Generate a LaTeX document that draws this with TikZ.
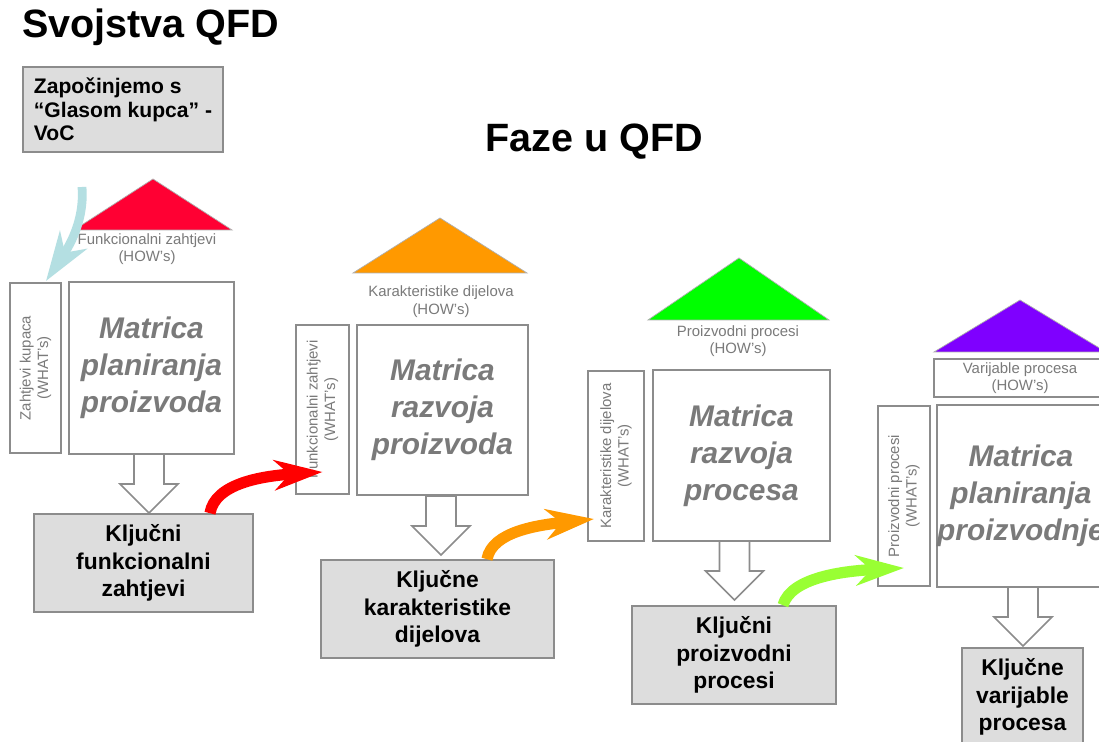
\documentclass[tikz,border=0pt]{standalone}
\usepackage{fontspec}
\setmainfont{Liberation Sans}
\usetikzlibrary{arrows.meta}

\definecolor{garis}{HTML}{8C8C8C}
\definecolor{abukotak}{HTML}{DDDDDD}
\definecolor{tekskabur}{HTML}{7A7A7A}
\definecolor{merahatap}{HTML}{FF0033}
\definecolor{merahpanah}{HTML}{FF0000}
\definecolor{oranye}{HTML}{FF9900}
\definecolor{hijauatap}{HTML}{00FF00}
\definecolor{hijaupanah}{HTML}{99FF33}
\definecolor{ungu}{HTML}{7F00FF}
\definecolor{birumuda}{HTML}{B4DFE2}

\tikzset{
  kotak/.style={draw=garis, line width=0.9pt, fill=white, inner sep=0pt},
  matriks/.style={kotak, align=center, text=tekskabur,
    font=\fontsize{17}{21}\selectfont\bfseries\itshape},
  apa/.style={kotak, rotate=90, align=center, text=tekskabur,
    font=\fontsize{8.5}{10}\selectfont},
  bagaimana/.style={align=center, text=tekskabur, inner sep=0pt,
    font=\fontsize{8.5}{10}\selectfont},
  kunci/.style={kotak, fill=abukotak, align=center,
    font=\fontsize{13}{15.5}\selectfont\bfseries},
  judul/.style={anchor=base west, inner sep=0pt,
    font=\fontsize{22.5}{27}\selectfont\bfseries},
  atap/.style={draw=garis!70, line width=0.4pt},
  turun/.style={draw=garis, line width=0.9pt, fill=white, line join=miter},
  lengkung/.style={line width=6.4pt, -{Stealth[length=9.6mm,width=6mm,inset=3mm]}},
}

\begin{document}
\begin{tikzpicture}[x=0.02cm, y=-0.02cm]
    \useasboundingbox (0,0) rectangle (1099,742);
    \clip (0,0) rectangle (1099,742);
    \fill[white] (0,0) rectangle (1099,742);

    % judul
    \node[judul] (svojstva) at (22,38) {Svojstva QFD};
    \node[judul] (faze) at (485,152) {Faze u QFD};

    % suara pelanggan
    \node[kotak, fill=abukotak, minimum width=4cm, minimum height=1.7cm,
      align=left, font=\fontsize{12}{13.5}\selectfont\bfseries] (voc) at (123,109.5)
      {Započinjemo s\\“Glasom kupca” -\\VoC};

    % atap
    \filldraw[atap, fill=merahatap] (74,230) -- (153,179) -- (232,230) -- cycle;
    \filldraw[atap, fill=oranye] (353,273) -- (440,218) -- (527,273) -- cycle;
    \filldraw[atap, fill=hijauatap] (648,320) -- (739,258) -- (829,320) -- cycle;
    \filldraw[atap, fill=ungu] (934,352) -- (1020,300) -- (1106,352) -- cycle;

    % label HOW
    \node[bagaimana] (how1) at (147,249) {Funkcionalni zahtjevi\\(HOW’s)};
    \node[bagaimana] (how2) at (441,301.5) {Karakteristike dijelova\\(HOW’s)};
    \node[bagaimana] (how3) at (738,341) {Proizvodni procesi\\(HOW’s)};
    \node[kotak, bagaimana, minimum width=3.44cm, minimum height=0.76cm] (how4) at (1020,378)
      {Varijable procesa\\(HOW’s)};

    % matriks
    \node[matriks, minimum width=3.3cm, minimum height=3.44cm] (mat1) at (151.5,368) {Matrica\\planiranja\\proizvoda};
    \node[matriks, minimum width=3.42cm, minimum height=3.4cm] (mat2) at (442.5,410) {Matrica\\razvoja\\proizvoda};
    \node[matriks, minimum width=3.54cm, minimum height=3.42cm] (mat3) at (741.5,455.5) {Matrica\\razvoja\\procesa};
    \node[matriks, minimum width=3.32cm, minimum height=3.64cm] (mat4) at (1021,496) {Matrica\\planiranja\\proizvodnje};

    % label WHAT (diputar)
    \node[apa, minimum width=3.4cm, minimum height=1.02cm] (what1) at (35.5,368) {Zahtjevi kupaca\\(WHAT’s)};
    \node[apa, minimum width=3.38cm, minimum height=1.06cm] (what2) at (322.5,409.5) {Funkcionalni zahtjevi\\(WHAT’s)};
    \node[apa, minimum width=3.4cm, minimum height=1.12cm] (what3) at (616,456) {Karakteristike dijelova\\(WHAT’s)};
    \node[apa, minimum width=3.6cm, minimum height=1.04cm] (what4) at (904,496) {Proizvodni procesi\\(WHAT’s)};

    % kotak kunci
    \node[kunci, minimum width=4.38cm, minimum height=1.96cm] (key1) at (143.5,563) {Ključni\\funkcionalni\\zahtjevi};
    \node[kunci, minimum width=4.66cm, minimum height=1.96cm] (key2) at (437.5,609) {Ključne\\karakteristike\\dijelova};
    \node[kunci, minimum width=4.08cm, minimum height=1.96cm] (key3) at (734,655) {Ključni\\proizvodni\\procesi};
    \node[kunci, minimum width=2.42cm, minimum height=1.96cm] (key4) at (1022.5,697) {Ključne\\varijable\\procesa};

    % panah ke bawah
    \foreach \x/\y in {149/454, 441/496, 734.5/541, 1023/587}
      \draw[turun] (\x-15,\y) -- (\x+15,\y) -- (\x+15,\y+30) -- (\x+29,\y+30)
        -- (\x,\y+59) -- (\x-29,\y+30) -- (\x-15,\y+30) -- cycle;

    % panah lengkung
    \coordinate (vocujung) at (82,187);
    \draw[lengkung, birumuda, line width=5pt, -{Stealth[length=9.8mm,width=6.4mm,inset=3mm]}]
      (vocujung) .. controls +(2,25) and +(30,-45) .. ([xshift=2.1mm,yshift=1.74cm]what1.center);
    \draw[lengkung, merahpanah] ([xshift=1.33cm]key1.north)
      .. controls +(5,-30) and +(-60,4) .. ([yshift=-1.25cm]what2.center);
    \draw[lengkung, oranye] ([xshift=0.99cm]key2.north)
      .. controls +(5,-28) and +(-55,6) .. ([xshift=-0.44cm,yshift=-1.26cm]what3.center);
    \draw[lengkung, hijaupanah] ([xshift=0.98cm]key3.north)
      .. controls +(8,-28) and +(-60,3) .. ([yshift=-1.44cm]what4.center);
\end{tikzpicture}
\end{document}
